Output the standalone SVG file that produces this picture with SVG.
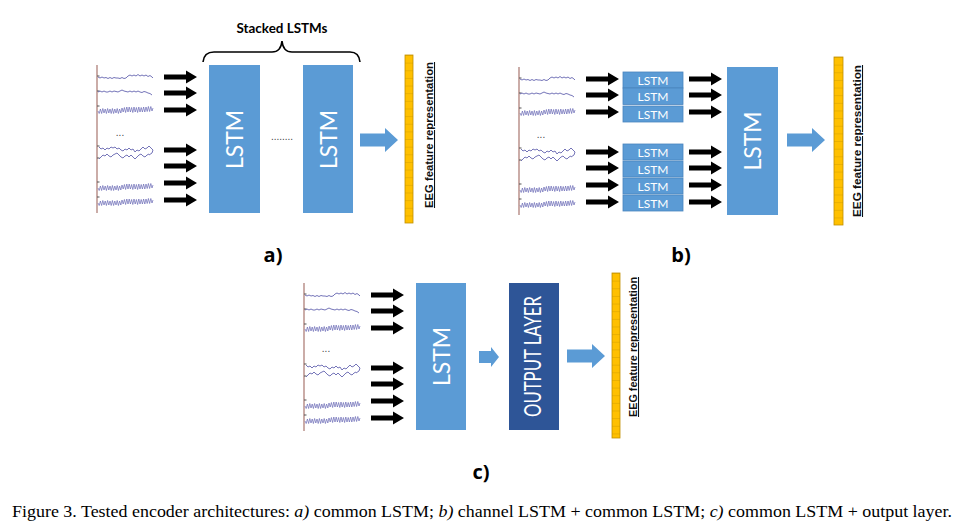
<svg xmlns="http://www.w3.org/2000/svg" width="957" height="529" viewBox="0 0 957 529">
<style>
.sig{fill:none;stroke:#6464b0;stroke-width:0.9;stroke-linejoin:round}
.sigc{fill:none;stroke:#6a6ab6;stroke-width:0.7;stroke-linejoin:round}
.axis{stroke:#a8766e;stroke-width:1.2}
.tick{stroke:#555;stroke-width:1}
.box{fill:#5B9BD5}
.sbox{fill:#5B9BD5;stroke:#4a84bd;stroke-width:0.8}
.dark{fill:#2E5597}
.big{font-family:Lato,"Liberation Sans",sans-serif;font-size:23px;fill:#fff;text-anchor:middle}
.small{font-family:Lato,"Liberation Sans",sans-serif;font-size:12px;fill:#fff;text-anchor:middle}
.feat{font-family:"Liberation Sans",Arial,sans-serif;font-weight:bold;font-size:10.5px;fill:#111;text-anchor:middle;text-decoration:underline}
.lbl{font-family:"Open Sans","Liberation Sans",sans-serif;font-weight:bold;font-size:20px;fill:#000;text-anchor:middle}
.dots{font-family:"Liberation Sans",sans-serif;font-size:10px;fill:#444;text-anchor:middle}
.cap{font-family:"Liberation Serif","Times New Roman",serif;font-size:16.5px;fill:#000}
.bar{fill:url(#seg);stroke:#C09000;stroke-width:0.8}
</style>
<defs>
<pattern id="seg" patternUnits="userSpaceOnUse" width="12" height="7.64">
<rect width="12" height="7.64" fill="#FFC000"/>
<line x1="0" y1="0" x2="12" y2="0" stroke="#C09000" stroke-width="0.7"/>
</pattern>
<path id="blk" d="M0,-2.6 H22 V-6.5 L33,0 L22,6.5 V2.6 H0 Z" fill="#000"/>
<path id="bluearr" d="M0,-6.5 H25 V-12 L38,0 L25,12 V6.5 H0 Z" fill="#5B9BD5"/>
<path id="sarr" d="M0,-6 H12 V-10 L20,0 L12,10 V6 H0 Z" fill="#5B9BD5"/>
<polyline id="sA" class="sig" points="1,0 3,1 5,0 7,1 9,0.5 11,1.5 13,0.5 15,1.5 17,0.5 19,1 21,1 23,1.5 25,0.5 27,1.5 29,1 31,-1 33,-2 35,-1 37,-2 39,-1 41,-2.5 43,-1 45,-2 47,-1 49,-2 51,-0.5 53,-1.5 55,0 56,1"/>
<polyline id="sB" class="sig" points="1,0 3,-1 5,0 7,-1 9,0 11,0 13,-1 15,0 17,-1 19,-0.5 21,0 23,-1 25,-2 27,-1 29,-0.5 31,0 33,-1 35,0 37,-1 39,0 41,-1 43,0 45,0.5 47,-0.5 49,0 51,1 53,1.5 55,3"/>
<polyline id="sC" class="sigc" points="1,0 2.2,2.5 3.4,-2 4.6,2.5 5.8,-2.5 7,2 8.2,-2 9.4,2.5 10.6,-2.5 11.8,2 13,-2 14.2,2.5 15.4,-2.5 16.6,2.5 17.8,-2 19,2 20.2,-2.5 21.4,2.5 22.6,-2 23.8,2 25,-3 26.2,1 27.4,-3.5 28.6,1.5 29.8,-4 31,1 32.2,-4 33.4,1 34.6,-3.5 35.8,1.5 37,-4 38.2,1 39.4,-3.5 40.6,1.5 41.8,-4 43,1 44.2,-3.5 45.4,1 46.6,-4 47.8,1 49,-4 50.2,0.5 51.4,-4.5 52.6,0.5 53.8,-4.5 55,0 56,-3"/>
<g id="signals">
<line class="axis" x1="0" y1="-12" x2="0" y2="136"/>
<line class="tick" x1="0" y1="-1" x2="2.5" y2="-1"/>
<line class="tick" x1="0" y1="14" x2="2.5" y2="14"/>
<line class="tick" x1="0" y1="29" x2="2.5" y2="29"/>
<line class="tick" x1="0" y1="69" x2="2.5" y2="69"/>
<line class="tick" x1="0" y1="81" x2="2.5" y2="81"/>
<line class="tick" x1="0" y1="105" x2="2.5" y2="105"/>
<line class="tick" x1="0" y1="120" x2="2.5" y2="120"/>
<use href="#sA" x="0" y="0"/>
<use href="#sB" x="0" y="15"/>
<use href="#sC" x="0" y="34"/>
<polyline class="sig" points="2,70 4,72 6,71 8,73 10,71 12,72 14,70 16,71 18,70 20,72 22,71 24,73 26,74 28,72 30,73 32,71 34,73 36,72 38,75 40,73 42,74 44,72 46,70 48,72 50,71 52,69 54,71 56,73 55,76 52,78"/>
<polyline class="sig" points="2,82 4,80 6,78 8,79 10,77 12,79 14,80 16,78 18,77 20,76 22,78 24,80 26,81 28,79 30,78 32,80 34,78 36,80 38,82 40,80 42,78 44,77 46,79 48,80 50,78 52,77"/>
<use href="#sC" x="0" y="111"/>
<use href="#sC" x="0" y="126"/>
</g>
<g id="arrows7">
<use href="#blk" y="0"/><use href="#blk" y="16"/><use href="#blk" y="33"/>
<use href="#blk" y="73"/><use href="#blk" y="89"/><use href="#blk" y="106"/><use href="#blk" y="123"/>
</g>
</defs>

<!-- Panel a -->
<g id="a-inputs">
<use href="#signals" transform="translate(97,77)"/>
<text class="dots" x="120" y="136">...</text>
</g>
<g id="connectors">
<use href="#arrows7" transform="translate(164,77)"/>
<use href="#bluearr" transform="translate(360,140)"/>
<use href="#arrows7" transform="translate(586,79)"/>
<use href="#arrows7" transform="translate(689,79)"/>
<use href="#bluearr" transform="translate(787,140)"/>
<use href="#arrows7" transform="translate(371,295)"/>
<use href="#sarr" transform="translate(479,357)"/>
<use href="#bluearr" transform="translate(567,356)"/>
</g>
<g id="a-stacked">
<path d="M203,62 Q204,52 214,52 H272 Q281,52 282,41 Q283,52 292,52 H350 Q359,52 360,62" fill="none" stroke="#000" stroke-width="1.6"/>
<text x="282" y="33" font-family="Lato,'Liberation Sans',sans-serif" font-weight="bold" font-size="13.5" text-anchor="middle" textLength="91" lengthAdjust="spacingAndGlyphs">Stacked LSTMs</text>
</g>
<g id="a-lstm1">
<rect class="box" x="209" y="65" width="51" height="148"/>
<text class="big" transform="translate(243,139.5) rotate(-90)">LSTM</text>
</g>
<text class="dots" x="282" y="140">........</text>
<g id="a-lstm2">
<rect class="box" x="303" y="65" width="50" height="148"/>
<text class="big" transform="translate(336.5,139.5) rotate(-90)">LSTM</text>
</g>
<g id="a-feature">
<g transform="translate(405,55)"><rect class="bar" x="0" y="0" width="8" height="168"/></g>
<text class="feat" transform="translate(433,135) rotate(-90)" textLength="146" lengthAdjust="spacingAndGlyphs">EEG feature representation</text>
</g>
<text class="lbl" x="273" y="262">a)</text>

<!-- Panel b -->
<g id="b-inputs">
<use href="#signals" transform="translate(519,79)"/>
<text class="dots" x="541" y="138">...</text>
</g>
<g id="b-channel-lstms">
<rect class="sbox" x="623" y="72" width="60" height="16"/><text class="small" x="653" y="84.5">LSTM</text>
<rect class="sbox" x="623" y="88" width="60" height="16.5"/><text class="small" x="653" y="100.5">LSTM</text>
<rect class="sbox" x="623" y="106" width="60" height="16"/><text class="small" x="653" y="118.5">LSTM</text>
<rect class="sbox" x="623" y="144" width="60" height="16"/><text class="small" x="653" y="156.5">LSTM</text>
<rect class="sbox" x="623" y="161" width="60" height="16"/><text class="small" x="653" y="173.5">LSTM</text>
<rect class="sbox" x="623" y="178" width="60" height="16"/><text class="small" x="653" y="190.5">LSTM</text>
<rect class="sbox" x="623" y="195" width="60" height="16"/><text class="small" x="653" y="207.5">LSTM</text>
</g>
<g id="b-lstm">
<rect class="box" x="727" y="67" width="51" height="148"/>
<text class="big" transform="translate(761,141) rotate(-90)">LSTM</text>
</g>
<g id="b-feature">
<g transform="translate(834,57)"><rect class="bar" x="0" y="0" width="9" height="168"/></g>
<text class="feat" transform="translate(861,141) rotate(-90)" textLength="152" lengthAdjust="spacingAndGlyphs">EEG feature representation</text>
</g>
<text class="lbl" x="681" y="262">b)</text>

<!-- Panel c -->
<g id="c-inputs">
<use href="#signals" transform="translate(304,295)"/>
<text class="dots" x="326" y="352">...</text>
</g>
<g id="c-lstm">
<rect class="box" x="416" y="283" width="50" height="147"/>
<text class="big" transform="translate(449.5,356.5) rotate(-90)">LSTM</text>
</g>
<g id="c-output">
<rect class="dark" x="509" y="283" width="50" height="147"/>
<text class="big" transform="translate(541,356.5) rotate(-90)" font-size="20" textLength="121" lengthAdjust="spacingAndGlyphs">OUTPUT LAYER</text>
</g>
<g id="c-feature">
<g transform="translate(612,273)"><rect class="bar" x="0" y="0" width="8" height="165"/></g>
<text class="feat" transform="translate(637,347) rotate(-90)" textLength="140" lengthAdjust="spacingAndGlyphs">EEG feature representation</text>
</g>
<text class="lbl" x="481" y="479">c)</text>

<text class="cap" x="12" y="517" textLength="940" lengthAdjust="spacingAndGlyphs">Figure 3. Tested encoder architectures: <tspan font-style="italic">a)</tspan> common LSTM; <tspan font-style="italic">b)</tspan> channel LSTM + common LSTM; <tspan font-style="italic">c)</tspan> common LSTM + output layer.</text>
</svg>
